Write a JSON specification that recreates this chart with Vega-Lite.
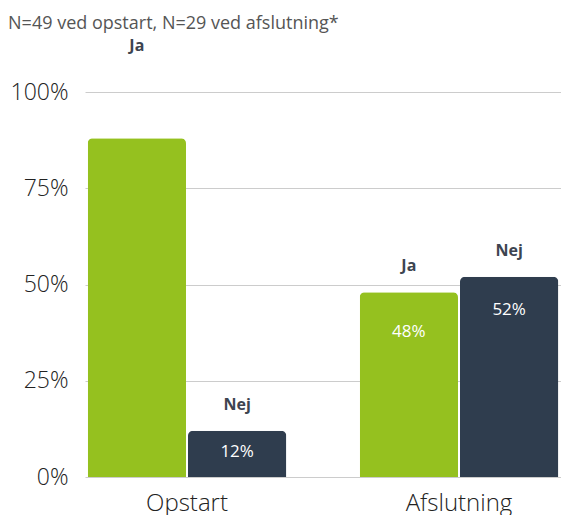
{
  "$schema": "https://vega.github.io/schema/vega-lite/v6.json",
  "autosize": "none",
  "width": 476,
  "height": 385,
  "padding": {"left": 85, "top": 92, "right": 0, "bottom": 38},
  "background": "white",
  "title": {
    "text": "N=49 ved opstart, N=29 ved afslutning*",
    "anchor": "start",
    "frame": "bounds",
    "dx": -2,
    "offset": 5,
    "font": "Open Sans",
    "fontSize": 18,
    "fontWeight": "normal",
    "color": "#555555"
  },
  "config": {"view": {"stroke": null}},
  "data": {
    "values": [
      {"tidspunkt": "Opstart", "svar": "Ja", "andel": 0.88},
      {"tidspunkt": "Opstart", "svar": "Nej", "andel": 0.12},
      {"tidspunkt": "Afslutning", "svar": "Ja", "andel": 0.48},
      {"tidspunkt": "Afslutning", "svar": "Nej", "andel": 0.52}
    ]
  },
  "encoding": {
    "x": {
      "field": "tidspunkt",
      "type": "nominal",
      "sort": ["Opstart", "Afslutning"],
      "scale": {"paddingInner": 0.27, "paddingOuter": 0.01},
      "axis": {
        "title": null,
        "ticks": false,
        "domain": false,
        "labelAngle": 0,
        "labelFont": "Open Sans",
        "labelFontWeight": 300,
        "labelFontSize": 24,
        "labelColor": "#222222",
        "labelPadding": 14
      }
    },
    "xOffset": {
      "field": "svar",
      "type": "nominal",
      "sort": ["Ja", "Nej"],
      "scale": {"paddingInner": 0.02}
    },
    "y": {
      "field": "andel",
      "type": "quantitative",
      "scale": {"domain": [0, 1]},
      "axis": {
        "title": null,
        "values": [0, 0.25, 0.5, 0.75, 1],
        "format": ".0%",
        "ticks": false,
        "domain": false,
        "gridColor": "#cccccc",
        "gridWidth": 1,
        "labelFont": "Open Sans",
        "labelFontWeight": 300,
        "labelFontSize": 23,
        "labelColor": "#222222",
        "labelPadding": 17
      }
    }
  },
  "layer": [
    {
      "mark": {"type": "bar", "cornerRadiusTopLeft": 5, "cornerRadiusTopRight": 5},
      "encoding": {
        "color": {
          "field": "svar",
          "type": "nominal",
          "scale": {"domain": ["Ja", "Nej"], "range": ["#95c11f", "#2f3d4e"]},
          "legend": null
        }
      }
    },
    {
      "transform": [{"filter": "datum.tidspunkt == 'Afslutning' || datum.svar == 'Nej'"}],
      "mark": {"type": "text", "dy": -26, "font": "Open Sans", "fontSize": 16, "fontWeight": "bold", "color": "#3d4450"},
      "encoding": {"text": {"field": "svar"}}
    },
    {
      "transform": [{"filter": "datum.tidspunkt == 'Opstart' && datum.svar == 'Ja'"}],
      "mark": {"type": "text", "font": "Open Sans", "fontSize": 16, "fontWeight": "bold", "color": "#3d4450"},
      "encoding": {"text": {"field": "svar"}, "y": {"datum": 1.12, "type": "quantitative"}}
    },
    {
      "transform": [{"filter": "datum.tidspunkt == 'Opstart' && datum.svar == 'Nej'"}],
      "mark": {"type": "text", "dy": 21, "font": "Open Sans", "fontSize": 17, "color": "white"},
      "encoding": {"text": {"field": "andel", "format": ".0%"}}
    },
    {
      "transform": [{"filter": "datum.tidspunkt == 'Afslutning' && datum.svar == 'Ja'"}],
      "mark": {"type": "text", "dy": 40, "font": "Open Sans", "fontSize": 17, "color": "white"},
      "encoding": {"text": {"field": "andel", "format": ".0%"}}
    },
    {
      "transform": [{"filter": "datum.tidspunkt == 'Afslutning' && datum.svar == 'Nej'"}],
      "mark": {"type": "text", "dy": 33, "font": "Open Sans", "fontSize": 17, "color": "white"},
      "encoding": {"text": {"field": "andel", "format": ".0%"}}
    }
  ]
}
